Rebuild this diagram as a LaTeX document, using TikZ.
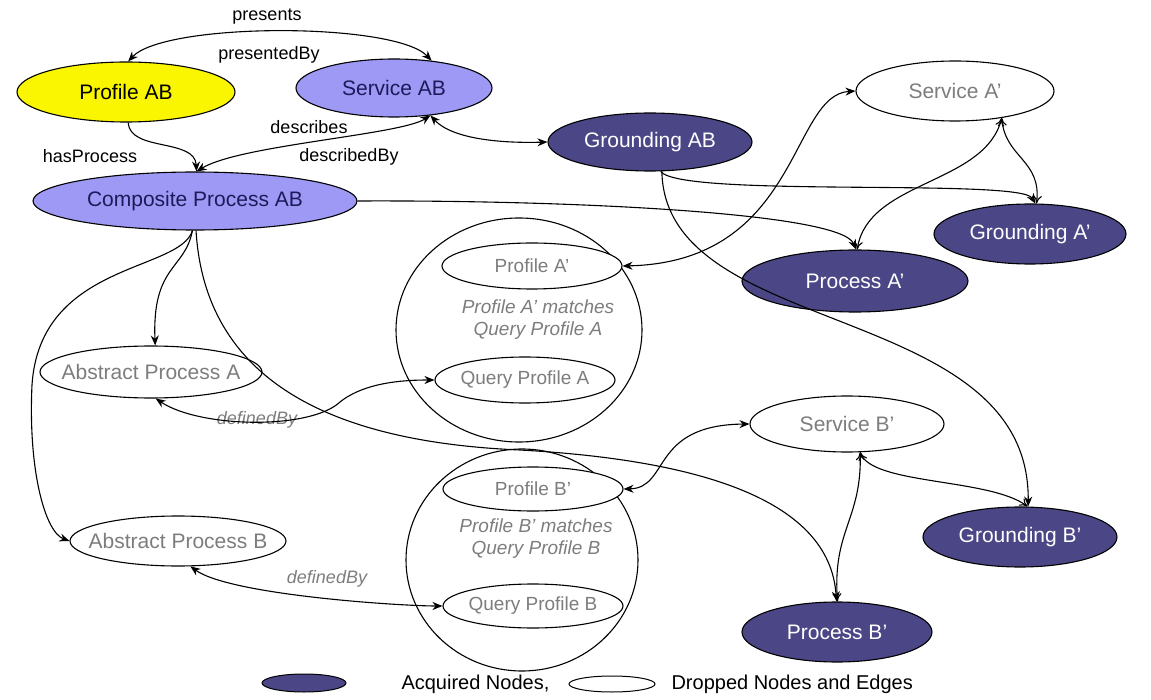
\documentclass[tikz,border=0pt]{standalone}
\usepackage{fontspec}
\setmainfont{Liberation Sans}
\usetikzlibrary{shapes.geometric,arrows.meta}
\definecolor{lavender}{HTML}{9D99F4}
\definecolor{acquired}{HTML}{4B4686}
\definecolor{navytext}{HTML}{1E1A5A}
\definecolor{dropgray}{HTML}{7D7D7D}
\definecolor{profyellow}{HTML}{FAF500}
\begin{document}
\begin{tikzpicture}[x=1pt,y=-1pt,
  oval/.style={ellipse, draw=black, line width=1.1pt, inner sep=0pt},
  nfont/.style={font=\fontsize{21}{24}\selectfont},
  sfont/.style={font=\fontsize{19}{22}\selectfont},
  lav/.style={oval, fill=lavender},
  acq/.style={oval, fill=acquired},
  drop/.style={oval, fill=white},
  ltext/.style={nfont, text=navytext},
  atext/.style={nfont, text=white},
  dtext/.style={nfont, text=dropgray},
  stext/.style={sfont, text=dropgray},
  ring/.style={ellipse, draw=black, line width=1.1pt, inner sep=0pt},
  lbl/.style={font=\fontsize{18}{21}\selectfont, text=black},
  ilbl/.style={font=\fontsize{18}{21}\selectfont\itshape, text=dropgray},
  note/.style={font=\fontsize{19}{22}\selectfont\itshape, text=dropgray},
  legend/.style={font=\fontsize{20}{24}\selectfont, anchor=west},
  conn/.style={line width=1.1pt},
  one/.style={conn, -{Stealth[length=10pt,width=8pt]}},
  two/.style={conn, {Stealth[length=10pt,width=8pt]}-{Stealth[length=10pt,width=8pt]}},
  vee/.style={conn, {To[length=8pt,width=9pt]}-{To[length=8pt,width=9pt]}},
]
\useasboundingbox (0,0) rectangle (1151,700);

% grouping circles
\node[ring, minimum width=246pt, minimum height=224pt] (ca) at (519,330) {};
\node[ring, minimum width=232pt, minimum height=222pt] (cb) at (522,560) {};

% composed service nodes
\node[oval, fill=profyellow, minimum width=218pt, minimum height=60pt,
  label={[nfont]center:Profile AB}] (pab) at (126,92) {};
\node[lav, minimum width=196pt, minimum height=58pt,
  label={[ltext]center:Service AB}] (sab) at (394,88) {};
\node[acq, minimum width=204pt, minimum height=58pt,
  label={[atext]center:Grounding AB}] (gab) at (650,142) {};
\node[lav, minimum width=324pt, minimum height=58pt,
  label={[ltext]center:Composite Process AB}] (cpab) at (195,201) {};

% component A
\node[drop, minimum width=198pt, minimum height=60pt,
  label={[dtext]center:Service A’}] (sa) at (955,91) {};
\node[acq, minimum width=192pt, minimum height=60pt,
  label={[atext]center:Grounding A’}] (ga) at (1030,234) {};
\node[acq, minimum width=226pt, minimum height=62pt,
  label={[atext]center:Process A’}] (pa) at (855,281) {};
\node[drop, minimum width=180pt, minimum height=46pt,
  label={[stext]center:Profile A'}] (ppa) at (532,266) {};
\node[drop, minimum width=180pt, minimum height=46pt,
  label={[stext]center:Query Profile A}] (qpa) at (525,380) {};
\node[drop, minimum width=222pt, minimum height=52pt,
  label={[dtext]center:Abstract Process A}] (apa) at (151,372) {};

% component B
\node[drop, minimum width=194pt, minimum height=56pt,
  label={[dtext]center:Service B’}] (sb) at (847,424) {};
\node[acq, minimum width=194pt, minimum height=60pt,
  label={[atext]center:Grounding B’}] (gb) at (1020,537) {};
\node[acq, minimum width=190pt, minimum height=60pt,
  label={[atext]center:Process B’}] (pb) at (837,632) {};
\node[drop, minimum width=180pt, minimum height=44pt,
  label={[stext]center:Profile B’}] (ppb) at (533,489) {};
\node[drop, minimum width=180pt, minimum height=44pt,
  label={[stext]center:Query Profile B}] (qpb) at (533,606) {};
\node[drop, minimum width=216pt, minimum height=50pt,
  label={[dtext]center:Abstract Process B}] (apb) at (178,541) {};

% match notes
\node[note, align=center] (ma) at (538,320) {Profile A’ matches\\Query Profile A};
\node[note, align=center] (mb) at (536,539) {Profile B’ matches\\Query Profile B};

% edge labels
\node[lbl] (lpres) at (267,17) {presents};
\node[lbl] (lpresby) at (269,55) {presentedBy};
\node[lbl] (ldesc) at (309,127) {describes};
\node[lbl] (ldescby) at (349,157) {describedBy};
\node[lbl] (lhas) at (90,156) {hasProcess};
\node[ilbl] (ldefa) at (257,420) {definedBy};
\node[ilbl] (ldefb) at (327,579) {definedBy};

% connectors among the composed nodes
\draw[two] (pab.86) .. controls (165,22) and (395,22) .. (sab.36);
\draw[one] (pab.274) .. controls (130,152) and (195,138) .. (cpab.87);
\draw[two] (cpab.87) .. controls (240,145) and (400,135) .. (sab.323);
\draw[two] (sab.323) .. controls (455,142) and (515,143) .. (gab.180);
\draw[one] (cpab.0) .. controls (560,200) and (840,212) .. (pa.88);
\draw[one] (gab.290) .. controls (680,198) and (1020,178) .. (ga.80);
\draw[one] (gab.292) .. controls (665,340) and (1030,300) .. (gb.75);
\draw[one] (cpab.265) .. controls (185,270) and (152,265) .. (apa.81);
\draw[one] (cpab.265) .. controls (180,272) and (40,262) .. (32,385)
  .. controls (28,470) and (45,532) .. (apb.180);
\draw[one] (cpab.272) .. controls (205,380) and (330,442) .. (520,450)
  .. controls (700,460) and (830,500) .. (pb.91);

% connectors of component A
\draw[two] (sa.180) .. controls (790,95) and (800,262) .. (ppa.0);
\draw[vee] (sa.330) .. controls (985,185) and (868,180) .. (pa.86);
\draw[vee] (sa.330) .. controls (1005,158) and (1042,160) .. (ga.78);
\draw[two] (apa.280) .. controls (200,428) and (310,430) .. (340,402)
  .. controls (365,382) and (405,380) .. (qpa.180);

% connectors of component B
\draw[two] (ppb.0) .. controls (670,488) and (650,425) .. (sb.180);
\draw[vee] (sb.295) .. controls (862,520) and (832,530) .. (pb.89);
\draw[vee] (sb.295) .. controls (872,485) and (990,478) .. (gb.76);
\draw[two] (apb.296) .. controls (230,595) and (400,606) .. (qpb.180);

% legend
\node[ellipse, draw=black, fill=acquired, line width=1pt, inner sep=0pt,
  minimum width=84pt, minimum height=18pt] (lega) at (304,683) {};
\node[legend] (legat) at (398,684) {Acquired Nodes,};
\node[ellipse, draw=black, fill=white, line width=1pt, inner sep=0pt,
  minimum width=86pt, minimum height=16pt] (legd) at (612,684) {};
\node[legend] (legdt) at (668,684) {Dropped Nodes and Edges};
\end{tikzpicture}
\end{document}
